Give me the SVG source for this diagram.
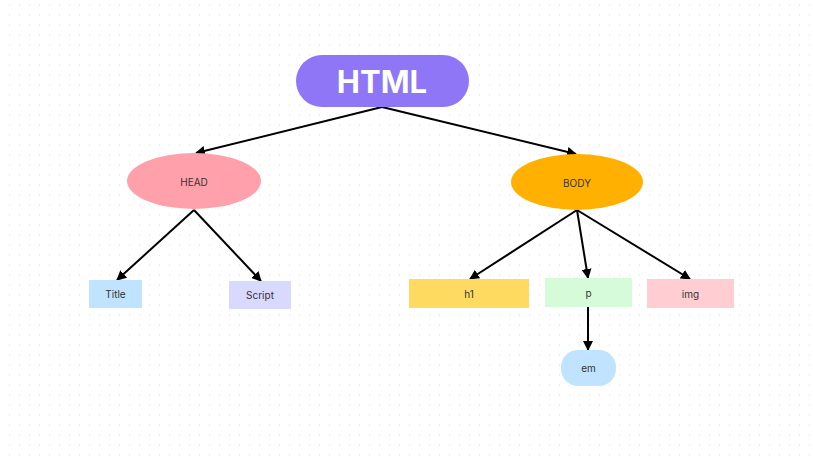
<svg xmlns="http://www.w3.org/2000/svg" width="813" height="461" viewBox="0 0 813 461">
<defs>
<pattern id="dots" x="0" y="0" width="10" height="10" patternUnits="userSpaceOnUse">
<rect x="9.3" y="4.3" width="1.5" height="1.5" fill="#dedede"/>
</pattern>
<marker id="arr" viewBox="0 0 10 10" refX="9" refY="5" markerWidth="5" markerHeight="5" orient="auto" markerUnits="strokeWidth">
<path d="M0,0 L10,5 L0,10 z" fill="#000"/>
</marker>
</defs>
<style>
.lbl{font-family:"Inter","Liberation Sans",sans-serif;font-size:10px;fill:#333;text-anchor:middle;dominant-baseline:central}
.edge{stroke:#000;stroke-width:2;fill:none;marker-end:url(#arr)}
</style>
<rect width="813" height="461" fill="#fff"/>
<rect width="813" height="461" fill="url(#dots)"/>
<g id="connectors">
<line class="edge" x1="382" y1="107" x2="196" y2="153"/>
<line class="edge" x1="382" y1="107" x2="576" y2="154"/>
<line class="edge" x1="194" y1="210" x2="117" y2="280"/>
<line class="edge" x1="194" y1="210" x2="261" y2="281"/>
<line class="edge" x1="577" y1="210" x2="470" y2="279"/>
<line class="edge" x1="577" y1="210" x2="588" y2="278"/>
<line class="edge" x1="577" y1="210" x2="690" y2="279"/>
<line class="edge" x1="588" y1="307" x2="588" y2="350"/>
</g>
<g id="node-html">
<rect x="296" y="55" width="173" height="52" rx="26" fill="#8f76f6"/>
<text x="382" y="81" font-family="Inter,'Liberation Sans',sans-serif" font-size="31" font-weight="bold" fill="#fff" text-anchor="middle" dominant-baseline="central">HTML</text>
</g>
<g id="node-head">
<ellipse cx="194" cy="181" rx="67" ry="28" fill="#ffa0ab"/>
<text class="lbl" x="194" y="182">HEAD</text>
</g>
<g id="node-body">
<ellipse cx="577" cy="182" rx="66" ry="28" fill="#ffb000"/>
<text class="lbl" x="577" y="183">BODY</text>
</g>
<g id="node-title">
<rect x="89" y="280" width="53" height="28" fill="#c0e4ff"/>
<text class="lbl" x="115.5" y="294">Title</text>
</g>
<g id="node-script">
<rect x="229" y="281" width="62" height="28" fill="#d9d9ff"/>
<text class="lbl" x="260" y="295">Script</text>
</g>
<g id="node-h1">
<rect x="409" y="279" width="120" height="29" fill="#ffda60"/>
<text class="lbl" x="469" y="293.5">h1</text>
</g>
<g id="node-p">
<rect x="545" y="278" width="87" height="29" fill="#d6fbd9"/>
<text class="lbl" x="588.5" y="292.5">p</text>
</g>
<g id="node-img">
<rect x="647" y="279" width="87" height="29" fill="#ffcdd2"/>
<text class="lbl" x="690.5" y="293.5">img</text>
</g>
<g id="node-em">
<rect x="561" y="350" width="55" height="36" rx="17" fill="#c0e4ff"/>
<text class="lbl" x="588.5" y="368">em</text>
</g>
</svg>
